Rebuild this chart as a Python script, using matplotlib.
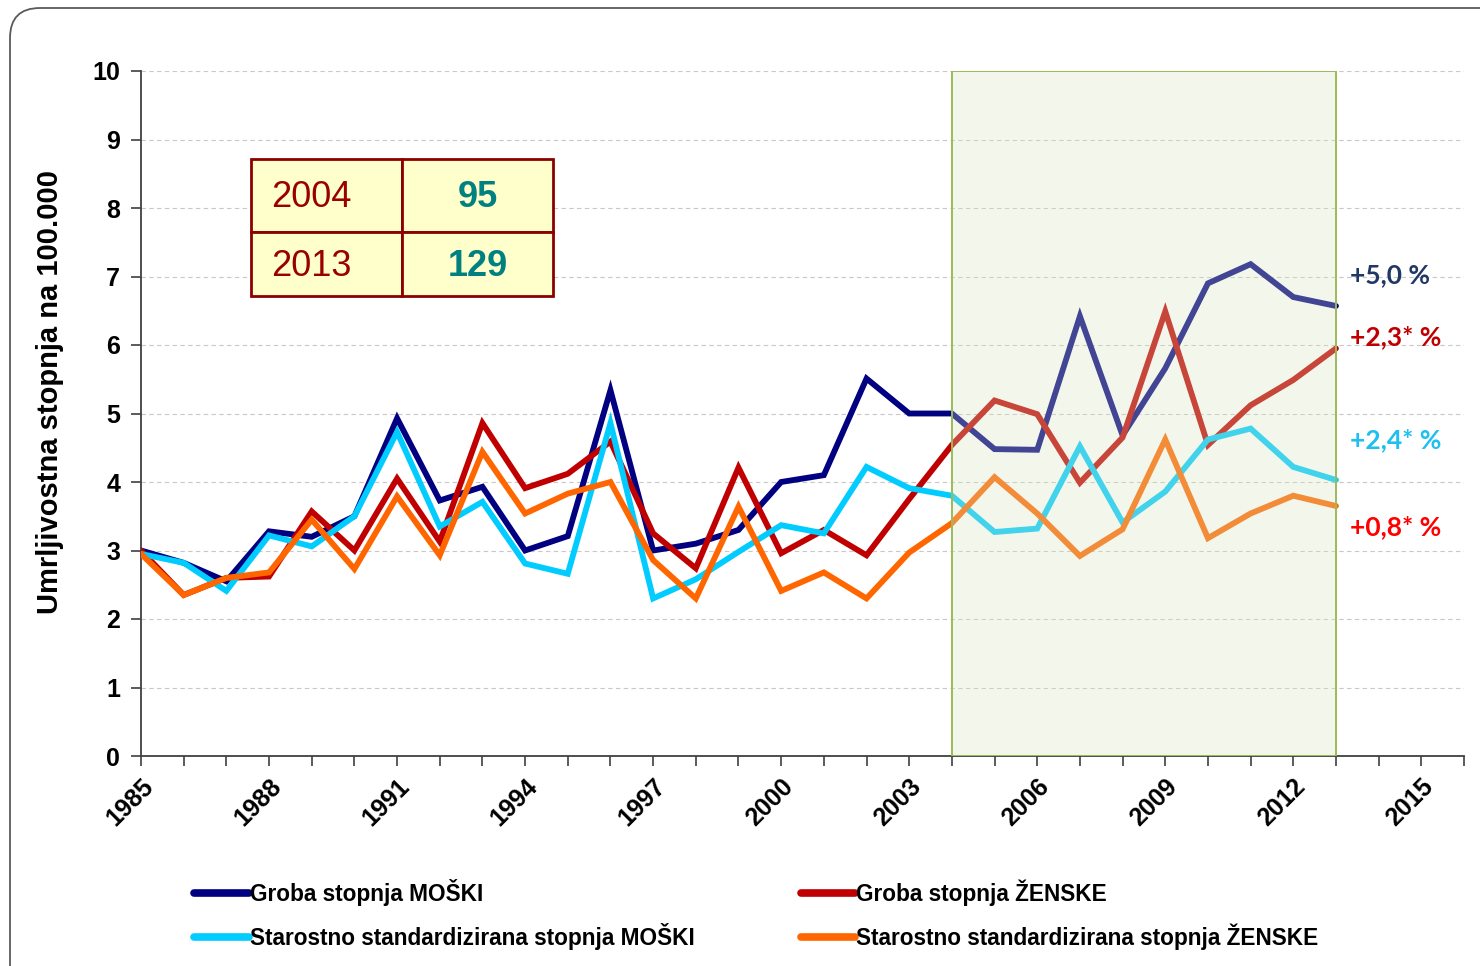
import matplotlib
matplotlib.use('Agg')
import matplotlib.pyplot as plt
from matplotlib.patches import Rectangle, FancyBboxPatch

plt.rcParams['font.family'] = ['Liberation Sans', 'DejaVu Sans']

# data
years = list(range(1985, 2014))
groba_m = [3.0, 2.82, 2.55, 3.28, 3.2, 3.5, 4.93, 3.73, 3.93, 3.0, 3.21, 5.34, 3.0, 3.1, 3.3,
           4.0, 4.1, 5.51, 5.0, 5.0, 4.48, 4.47, 6.42, 4.68, 5.66, 6.9, 7.18, 6.7, 6.57]
groba_z = [3.0, 2.35, 2.6, 2.62, 3.57, 3.0, 4.05, 3.13, 4.86, 3.91, 4.12, 4.59, 3.25, 2.74, 4.21,
           2.96, 3.3, 2.93, 3.75, 4.54, 5.19, 4.99, 3.99, 4.65, 6.49, 4.54, 5.12, 5.49, 5.95]
std_m = [2.95, 2.82, 2.41, 3.22, 3.06, 3.5, 4.73, 3.35, 3.71, 2.81, 2.66, 4.86, 2.3, 2.58, 2.98,
         3.37, 3.25, 4.22, 3.91, 3.8, 3.27, 3.32, 4.52, 3.41, 3.86, 4.62, 4.78, 4.22, 4.03]
std_z = [2.95, 2.35, 2.6, 2.68, 3.45, 2.73, 3.79, 2.93, 4.44, 3.54, 3.83, 4.0, 2.86, 2.3, 3.64,
         2.41, 2.68, 2.3, 2.97, 3.4, 4.07, 3.54, 2.92, 3.31, 4.62, 3.18, 3.54, 3.8, 3.65]

labels = ['Groba stopnja MOŠKI', 'Groba stopnja ŽENSKE',
          'Starostno standardizirana stopnja MOŠKI', 'Starostno standardizirana stopnja ŽENSKE']
colors = ['#000080', '#c00000', '#00ccff', '#ff6600']

table_years = ['2004', '2013']
table_counts = ['95', '129']

trend_texts = ['+5,0 %', '+2,3* %', '+2,4* %', '+0,8* %']
trend_colors = ['#1f3864', '#c00000', '#1ec0f0', '#ff0000']
trend_y = [275, 337, 440, 527]  # pixel rows

fig = plt.figure(figsize=(14.8, 9.66), dpi=100)

# background frame, behind everything (pixel coords)
bg = fig.add_axes([0, 0, 1, 1], zorder=-5)
bg.set_xlim(0, 1480)
bg.set_ylim(966, 0)
bg.axis('off')
bg.add_patch(FancyBboxPatch((10, 8), 1520, 1000, boxstyle="round,pad=0,rounding_size=30",
                            facecolor='white', edgecolor='#5a5a5a', linewidth=1.3))

ax = fig.add_axes([141 / 1480, 1 - 756 / 966, 1323 / 1480, 685 / 966], zorder=0)
ax.patch.set_alpha(0)

series = [groba_m, groba_z, std_m, std_z]
handles = []
for vals, col, lab in zip(series, colors, labels):
    h, = ax.plot(years, vals, color=col, linewidth=4.2, solid_joinstyle='miter',
                 solid_capstyle='round', label=lab, zorder=3)
    handles.append(h)

# shaded period 2004-2013, laid over the lines
ax.add_patch(Rectangle((2004, 0), 9, 10, facecolor='#d9e5c0', alpha=0.3,
                       edgecolor='none', zorder=4))
ax.add_patch(Rectangle((2004, 0), 9, 10, facecolor='none',
                       edgecolor='#9bbb59', linewidth=1.4, zorder=5))

ax.set_xlim(1985, 2016)
ax.set_ylim(0, 10)
ax.set_yticks(range(0, 11))
ax.set_xticks(range(1985, 2017))
ax.set_xticklabels([str(y) if (y - 1985) % 3 == 0 else '' for y in range(1985, 2017)],
                   rotation=45, ha='right', rotation_mode='anchor')
for t in ax.get_xticklabels() + ax.get_yticklabels():
    t.set_fontsize(18)
    t.set_fontweight('bold')
ax.tick_params(axis='both', direction='out', length=7, width=1.2, color='#404040')
ax.tick_params(axis='x', pad=6)
ax.tick_params(axis='y', pad=8)

ax.grid(axis='y', linestyle=(0, (4, 3)), color='#c8c8c8', linewidth=0.8)
ax.set_axisbelow(True)
for s in ['top', 'right']:
    ax.spines[s].set_visible(False)
for s in ['left', 'bottom']:
    ax.spines[s].set_color('#404040')
    ax.spines[s].set_linewidth(1.3)

ax.set_ylabel('Umrljivostna stopnja na 100.000', fontsize=21, fontweight='bold')
ax.yaxis.set_label_coords(-0.058, 0.531)

# overlay in pixel coords for table and labels
ov = fig.add_axes([0, 0, 1, 1], zorder=5)
ov.set_xlim(0, 1480)
ov.set_ylim(966, 0)
ov.axis('off')

# small table 2004 / 2013
x0, x1, x2 = 251, 402, 553
ys = [159, 232, 296]
for i in range(2):
    for xa, xb in [(x0, x1), (x1, x2)]:
        ov.add_patch(Rectangle((xa, ys[i]), xb - xa, ys[i + 1] - ys[i], facecolor='#ffffcc',
                               edgecolor='#8b0000', linewidth=2))
    ymid = (ys[i] + ys[i + 1]) / 2
    ov.text(x0 + 20, ymid + 2, table_years[i], fontsize=26, color='#990000',
            ha='left', va='center')
    ov.text((x1 + x2) / 2, ymid + 2, table_counts[i], fontsize=26, color='#008080',
            fontweight='bold', ha='center', va='center')

# trend labels
for txt, col, yy in zip(trend_texts, trend_colors, trend_y):
    ov.text(1350, yy, txt, color=col, fontsize=19, fontweight='bold',
            family=['Lato', 'DejaVu Sans'], ha='left', va='center')

leg = fig.legend([handles[0], handles[2], handles[1], handles[3]],
                 [labels[0], labels[2], labels[1], labels[3]],
                 ncol=2, loc='upper left', bbox_to_anchor=(174 / 1480, 1 - 859 / 966),
                 frameon=False, handlelength=2.4, handletextpad=0.05, columnspacing=4.7,
                 labelspacing=0.75, prop={'weight': 'bold', 'size': 16.3})
for lh in leg.get_lines():
    lh.set_linewidth(5.5)

fig.savefig('out.png', dpi=100, facecolor='white')
